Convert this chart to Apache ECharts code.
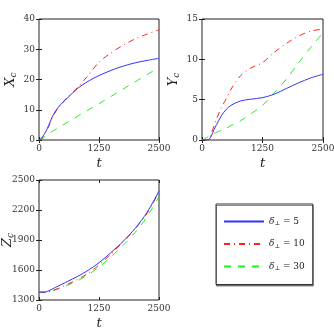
<!DOCTYPE html>
<html>
<head>
<meta charset="utf-8">
<script src="https://cdn.jsdelivr.net/npm/echarts@6/dist/echarts.min.js"></script>
<style>
  html, body { margin: 0; padding: 0; background: #fff; }
  #main { width: 334px; height: 335px; }
</style>
</head>
<body>
<div id="main"></div>
<script>
// time samples shared by all curves
var tVals = [0, 50, 100, 150, 200, 250, 300, 400, 500, 600, 800, 1000, 1250, 1500, 1750, 2000, 2250, 2500];

// X_c
var xBlue  = [0, 0.6, 1.7, 3.0, 4.8, 6.7, 8.4, 10.8, 12.5, 14, 17, 19.2, 21.3, 23, 24.4, 25.5, 26.3, 27];
var xRed   = [0, 0.4, 1.4, 2.8, 4.4, 6.3, 8.1, 10.7, 12.5, 14.3, 17.3, 20.9, 25.7, 28.8, 31.3, 33.4, 35, 36.4];
var xGreen = [0, 0.3, 0.8, 1.4, 2, 2.6, 3.1, 4, 5, 5.9, 7.8, 9.7, 12, 14.4, 16.8, 19.2, 21.6, 24];

// Y_c
var yBlue  = [0, 0, 0, 0.1, 0.6, 1.3, 1.9, 3, 3.8, 4.3, 4.85, 5.05, 5.25, 5.7, 6.4, 7.1, 7.7, 8.15];
var yRed   = [0, 0, 0, 0.2, 0.9, 1.8, 2.6, 4, 5.1, 6.3, 8, 8.9, 9.6, 10.9, 12, 12.9, 13.5, 13.75];
var yGreen = [0, 0.15, 0.3, 0.5, 0.65, 0.8, 0.95, 1.2, 1.45, 1.8, 2.4, 3.2, 4.3, 5.9, 7.6, 9.6, 11.5, 13.3];

// Z_c
var zBlue  = [1378, 1378, 1378, 1382, 1392, 1403, 1415, 1440, 1463, 1487, 1535, 1590, 1673, 1775, 1885, 2015, 2175, 2390];
var zRed   = [1378, 1378, 1378, 1379, 1382, 1389, 1398, 1416, 1436, 1458, 1505, 1560, 1650, 1760, 1880, 2010, 2165, 2380];
var zGreen = [1378, 1378, 1378, 1380, 1384, 1389, 1395, 1410, 1428, 1448, 1492, 1545, 1630, 1730, 1845, 1975, 2130, 2335];

var seriesNames = ['d5', 'd10', 'd30'];
var legendLabels = { d5: '5', d10: '10', d30: '30' };

var FONT = 'DejaVu Serif';
var colors = ['#3333ff', '#ff2222', '#22ee22'];
var dashes = ['solid', [6, 4, 1, 4], [7, 7]];

function pairs(ys) {
  return tVals.map(function (t, i) { return [t, ys[i]]; });
}
function plain(v) { return String(v); }

var grids = [
  { left: 39, top: 19, width: 120, height: 121 },
  { left: 202, top: 19, width: 121, height: 121 },
  { left: 39, top: 180, width: 120, height: 120 }
];
var yRanges = [
  { min: 0, max: 40, interval: 10, name: 'X', gap: 21 },
  { min: 0, max: 15, interval: 5, name: 'Y', gap: 21 },
  { min: 1300, max: 2500, interval: 300, name: 'Z', gap: 24 }
];
var allData = [
  [xBlue, xRed, xGreen],
  [yBlue, yRed, yGreen],
  [zBlue, zRed, zGreen]
];

var xAxis = [], yAxis = [], series = [];
grids.forEach(function (g, i) {
  g.show = true;
  g.borderColor = '#222';
  g.borderWidth = 1;
  g.backgroundColor = '#fff';
  g.containLabel = false;
  g.outerBoundsMode = 'none';
  xAxis.push({
    type: 'value', gridIndex: i, min: 0, max: 2500, interval: 1250,
    name: 't', nameLocation: 'middle', nameGap: 17, nameMoveOverlap: false,
    nameTextStyle: { fontFamily: FONT, fontStyle: 'italic', fontSize: 13, color: '#222' },
    axisLine: { show: false },
    axisTick: { inside: true, length: 3, lineStyle: { color: '#222' } },
    axisLabel: { fontFamily: FONT, fontSize: 9, color: '#333', margin: 4, formatter: plain },
    splitLine: { show: false }
  });
  xAxis.push({
    type: 'value', gridIndex: i, position: 'top', min: 0, max: 2500, interval: 1250,
    axisLine: { show: false },
    axisTick: { inside: true, length: 3, lineStyle: { color: '#222' } },
    axisLabel: { show: false }, splitLine: { show: false }
  });
  var r = yRanges[i];
  yAxis.push({
    type: 'value', gridIndex: i, min: r.min, max: r.max, interval: r.interval,
    name: '{n|' + r.name + '}{s|c}', nameLocation: 'middle', nameRotate: 90,
    nameGap: r.gap, nameMoveOverlap: false,
    nameTextStyle: {
      rich: {
        n: { fontFamily: FONT, fontStyle: 'italic', fontSize: 13, color: '#222' },
        s: { fontFamily: FONT, fontStyle: 'italic', fontSize: 9, color: '#222', padding: [6, 0, 0, 0] }
      }
    },
    axisLine: { show: false },
    axisTick: { inside: true, length: 3, lineStyle: { color: '#222' } },
    axisLabel: { fontFamily: FONT, fontSize: 9, color: '#333', margin: 4, formatter: plain },
    splitLine: { show: false }
  });
  yAxis.push({
    type: 'value', gridIndex: i, position: 'right', min: r.min, max: r.max, interval: r.interval,
    axisLine: { show: false },
    axisTick: { inside: true, length: 3, lineStyle: { color: '#222' } },
    axisLabel: { show: false }, splitLine: { show: false }
  });
  allData[i].forEach(function (ys, k) {
    series.push({
      name: seriesNames[k], type: 'line', xAxisIndex: 2 * i, yAxisIndex: 2 * i,
      data: pairs(ys), smooth: 0.3, symbol: 'none', silent: true,
      lineStyle: { color: colors[k], width: 1, type: dashes[k] },
      itemStyle: { color: colors[k] },
      z: 3 - k
    });
  });
});

var chart = echarts.init(document.getElementById('main'), null, { renderer: 'canvas' });
chart.setOption({
  animation: false,
  backgroundColor: '#fff',
  grid: grids,
  xAxis: xAxis,
  yAxis: yAxis,
  series: series,
  legend: {
    orient: 'vertical', left: 216, top: 204, width: 90, height: 70,
    padding: [13, 8, 13, 7], itemGap: 13, itemWidth: 40, itemHeight: 8,
    backgroundColor: '#fff', borderColor: '#333', borderWidth: 1,
    shadowColor: 'rgba(0,0,0,0.45)', shadowOffsetY: 1.5, shadowOffsetX: 0.5, shadowBlur: 0,
    itemStyle: { opacity: 0 },
    data: seriesNames,
    formatter: function (n) { return '{d|δ}{s|⊥}{e| = ' + legendLabels[n] + '}'; },
    textStyle: {
      rich: {
        d: { fontFamily: FONT, fontStyle: 'italic', fontSize: 9, color: '#222' },
        s: { fontFamily: FONT, fontSize: 6, color: '#222', padding: [4, 0, 0, 0] },
        e: { fontFamily: FONT, fontSize: 9, color: '#222' }
      }
    }
  }
});
</script>
</body>
</html>
